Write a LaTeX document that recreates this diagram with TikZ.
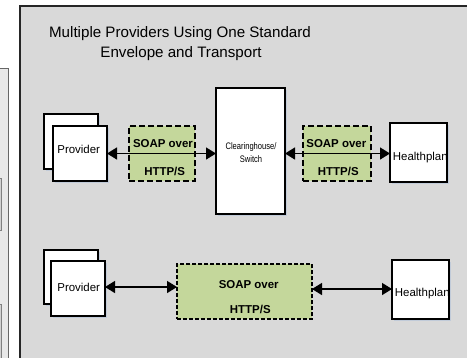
\documentclass[tikz,border=0pt]{standalone}
\usepackage{fontspec}
\setmainfont{Liberation Sans}
\usetikzlibrary{arrows.meta,shadows}
\definecolor{panelgrey}{HTML}{D9D9D9}
\definecolor{sidegrey}{HTML}{E8E8E8}
\definecolor{soapgreen}{HTML}{C4D79B}
\definecolor{shadowblue}{HTML}{AFC0DA}
\tikzset{
  box/.style={draw=black, fill=white, line width=1.1bp, inner sep=0pt, outer sep=0pt,
    drop shadow={shadow xshift=1.5bp, shadow yshift=-1.8bp, fill=shadowblue, opacity=0.55}},
  soapbox/.style={draw=black, fill=soapgreen, line width=1.1bp, dash pattern=on 6bp off 3bp,
    inner sep=0pt, outer sep=0pt},
  soapbig/.style={draw=black, fill=soapgreen, line width=1.8bp, dash pattern=on 4bp off 2bp,
    inner sep=0pt, outer sep=0pt},
  lbl/.style={font=\fontsize{11.5}{13}\selectfont, anchor=base, inner sep=0pt},
  soaplbl/.style={font=\fontsize{11.5}{13}\selectfont\bfseries, anchor=base, inner sep=0pt},
  smalllbl/.style={font=\fontsize{9.5}{11}\selectfont, anchor=base, inner sep=0pt},
  titlelbl/.style={font=\fontsize{15.2}{19}\selectfont, anchor=base, inner sep=0pt},
  biarrow/.style={line width=1.4bp, {Triangle[length=10bp,width=12bp]}-{Triangle[length=10bp,width=12bp]}}
}
\begin{document}
\begin{tikzpicture}[x=1bp,y=-1bp]
\useasboundingbox (0,0) rectangle (467,357);
% left partial panel
\draw[fill=sidegrey, draw=black!60, line width=0.8bp] (-10,68) rectangle (8,380);
\draw[fill=black!18, draw=black!50, line width=0.6bp] (-10,178) rectangle (1,230);
\draw[fill=black!18, draw=black!50, line width=0.6bp] (-10,304) rectangle (1,380);
% main panel
\draw[fill=panelgrey, draw=black!85, line width=1.3bp] (20,6) rectangle (490,380);
% title
\node[titlelbl] (title1) at (180,37.7) {Multiple Providers Using One Standard};
\node[titlelbl] (title2) at (181,57.3) {Envelope and Transport};
% top row
\node[box, minimum width=54bp, minimum height=55bp] (provAback) at (71,141.5) {};
\node[box, minimum width=54bp, minimum height=55bp] (provA) at (80,153.5) {};
\node[lbl] (provAt) at (78.7,153.3) {Provider};
\node[soapbox, minimum width=66bp, minimum height=55bp] (soap1) at (162,153.5) {};
\node[soaplbl] (soap1a) at (163,147.5) {SOAP over};
\node[soaplbl] (soap1b) at (164.7,175.7) {HTTP/S};
\node[box, minimum width=69bp, minimum height=126bp] (ch) at (250.5,151) {};
\node[smalllbl] (cha) at (251,149) {\scalebox{0.8}[1]{Clearinghouse/}};
\node[smalllbl] (chb) at (251,162) {\scalebox{0.8}[1]{Switch}};
\node[soapbox, minimum width=68bp, minimum height=55bp] (soap2) at (337,153.5) {};
\node[soaplbl] (soap2a) at (336.3,147.5) {SOAP over};
\node[soaplbl] (soap2b) at (338.3,175.7) {HTTP/S};
\node[box, minimum width=57bp, minimum height=59bp] (hp1) at (418.5,152.5) {};
\node[lbl] (hp1t) at (420.3,160.7) {Healthplan};
\draw[biarrow] (provA.east |- soap1) -- (ch.west |- soap1);
\draw[biarrow] (ch.east |- soap2) -- (hp1.west |- soap2);
% bottom row
\node[box, minimum width=54bp, minimum height=54bp] (provBback) at (71,277) {};
\node[box, minimum width=54bp, minimum height=55bp] (provB) at (78,288.5) {};
\node[lbl] (provBt) at (78.7,291.7) {Provider};
\node[soapbig, minimum width=135bp, minimum height=55bp] (soap3) at (244.5,291.5) {};
\node[soaplbl] (soap3a) at (248.7,288.7) {SOAP over};
\node[soaplbl] (soap3b) at (250.3,313.3) {HTTP/S};
\node[box, minimum width=57bp, minimum height=59bp] (hp2) at (420.5,289.5) {};
\node[lbl] (hp2t) at (422.3,296) {Healthplan};
\coordinate (a3) at (0,287);
\coordinate (a4) at (0,289);
\draw[biarrow] (provB.east |- a3) -- (soap3.west |- a3);
\draw[biarrow] (soap3.east |- a4) -- (hp2.west |- a4);
\end{tikzpicture}
\end{document}
